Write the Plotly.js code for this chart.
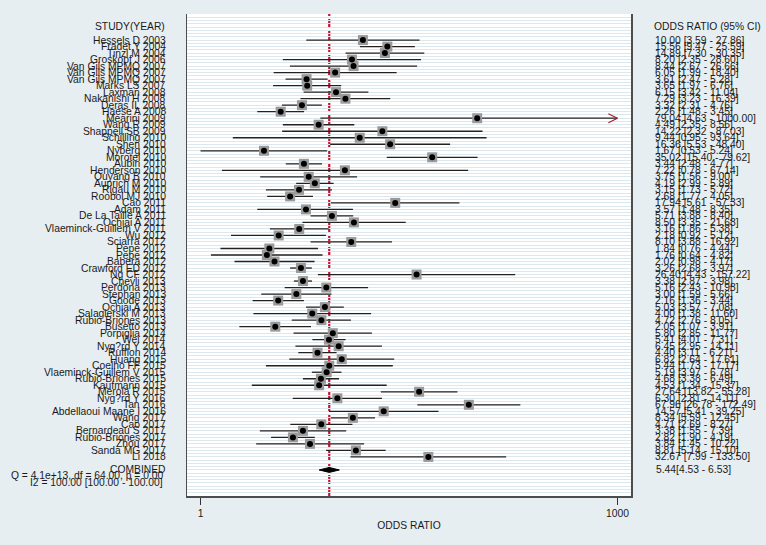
<!DOCTYPE html>
<html>
<head>
<meta charset="utf-8">
<script src="https://cdn.plot.ly/plotly-3.0.1.min.js"></script>
<style>
  html, body { margin: 0; padding: 0; background: #e7eef1; }
  #chart { width: 766px; height: 545px; }
</style>
</head>
<body>
<div id="chart"></div>
<script>
// ---------------- data ----------------
const studies = [
  'Hessels D 2003', 'Fradet Y 2004', 'Tinzl M 2004', 'Groskopf J 2006',
  'Van Gils MPMQ 2007', 'Van Gils MPMQ 2007', 'Van Gils MPMQ 2007', 'Marks LS 2007',
  'Laxman 2008', 'Nakanishi H 2008', 'Deras IL 2008', 'Haese A 2008',
  'Mearini 2009', 'Wang R 2009', 'Shappell SB 2009', 'Schilling 2010',
  'Shen 2010', 'Nyberg 2010', 'Morotel 2010', 'Aubin 2010',
  'Henderson 2010', 'Ouyang B 2010', 'Auprich M 2010', 'Rigau M 2010',
  'Roobol MJ 2010', 'Cao 2011', 'Adam 2011', 'De La Taille A 2011',
  'Ochiai A 2011', 'Vlaeminck-Guillem V 2011', 'Wu 2012', 'Sciarra 2012',
  'Pepe 2012', 'Pepe 2012', 'Babera 2012', 'Crawford ED 2012',
  'Ng CF 2012', 'Chevli 2013', 'Perdona 2013', 'Stephan 2013',
  'Goode 2013', 'Ochiai A 2013', 'Salagierski M 2013', 'Rubio-Briones 2013',
  'Busetto 2013', 'Porpiglia 2014', 'Wei 2014', 'Nyg?rd Y 2014',
  'Ruffion 2014', 'Huang 2015', 'Coelho FF 2015', 'Vlaeminck-Guillem V 2015',
  'Rubio-Briones 2015', 'Kaufmann 2015', 'Merola R 2015', 'Nyg?rd Y 2016',
  'Tan 2016', 'Abdellaoui Maane I 2016', 'Wang 2017', 'Cao 2017',
  'Bernardeau S 2017', 'Rubio-Briones 2017', 'Zhou 2017', 'Sanda MG 2017',
  'Li 2018'
];
const oddsRatio = [
  10.00, 15.56, 14.89, 8.20,
  8.44, 6.05, 3.61, 3.65,
  6.15, 7.29, 3.32, 2.26,
  79.04, 4.49, 14.22, 9.44,
  16.36, 1.67, 35.02, 3.44,
  7.22, 3.75, 4.19, 3.15,
  2.68, 17.94, 3.57, 5.71,
  8.50, 3.16, 2.18, 8.10,
  1.84, 1.76, 2.02, 3.26,
  26.40, 3.38, 5.16, 3.00,
  2.16, 5.03, 4.00, 4.72,
  2.05, 5.80, 5.41, 6.45,
  4.40, 6.82, 5.44, 5.19,
  4.68, 4.53, 27.64, 6.30,
  67.96, 14.57, 8.34, 4.71,
  3.38, 2.82, 3.84, 8.81,
  32.67
];
const ciLower = [
  3.59, 9.47, 7.30, 2.35,
  2.67, 1.99, 2.47, 1.97,
  3.42, 3.23, 2.31, 1.48,
  4.63, 2.35, 2.32, 0.95,
  5.53, 0.53, 15.40, 2.48,
  0.78, 1.56, 2.99, 1.73,
  1.77, 5.61, 1.48, 3.88,
  3.35, 1.86, 0.92, 3.88,
  0.76, 0.64, 0.98, 2.68,
  4.43, 2.87, 2.43, 1.59,
  1.36, 3.57, 1.38, 2.76,
  1.07, 2.85, 4.01, 2.95,
  3.11, 2.64, 1.73, 3.97,
  3.38, 1.34, 13.82, 2.81,
  26.78, 5.41, 5.59, 2.69,
  1.55, 1.90, 1.45, 5.14,
  7.99
];
const ciUpper = [
  27.86, 25.59, 30.35, 28.60,
  26.66, 18.40, 5.28, 6.76,
  11.04, 16.39, 4.76, 3.45,
  1000.00, 8.56, 87.03, 93.64,
  48.40, 5.24, 79.62, 4.77,
  67.14, 9.00, 5.89, 5.72,
  4.05, 57.33, 8.35, 8.40,
  21.68, 5.38, 5.12, 16.92,
  4.44, 4.82, 4.17, 3.97,
  157.22, 3.98, 10.98, 5.66,
  3.44, 7.08, 11.60, 8.05,
  3.91, 11.77, 7.31, 14.11,
  6.21, 17.61, 17.17, 6.78,
  6.49, 15.37, 55.28, 14.11,
  172.49, 39.25, 12.45, 8.27,
  7.39, 4.19, 10.22, 15.10,
  133.50
];
const pooledOR = 5.44;
const pooledLower = 4.53;
const pooledUpper = 6.53;
const heterogeneityQ = 'Q = 4.1e+13, df = 64.00, p = 0.00';
const heterogeneityI2 = 'I2 = 100.00 [100.00 - 100.00]';
const axisCap = 1000;               // upper CIs at this value are truncated (arrow)
const tickVals = [0.531, 1000];
const tickText = ['1', '1000'];

// ---------------- build ----------------
const rows = studies.map((_, i) => i + 1);
const combinedRow = studies.length + 2;
const headerRow = -1.15;

const FONT = 'Liberation Sans, Arial, sans-serif';
const TXT = '#1a1a1a';
const fs = 10.3;

const traces = [];

// CI lines + weight squares
traces.push({
  type: 'scatter', mode: 'markers',
  x: oddsRatio, y: rows,
  marker: { symbol: 'square', size: 10, color: '#9a9a9a', line: { width: 0 } },
  error_x: {
    type: 'data', symmetric: false,
    array: oddsRatio.map((v, i) => ciUpper[i] - v),
    arrayminus: oddsRatio.map((v, i) => v - ciLower[i]),
    width: 0, thickness: 1.3, color: '#222222'
  },
  hoverinfo: 'skip', showlegend: false
});
// point estimates
traces.push({
  type: 'scatter', mode: 'markers',
  x: oddsRatio, y: rows,
  marker: { symbol: 'circle', size: 6, color: '#000000' },
  hoverinfo: 'skip', showlegend: false
});

// truncated-CI arrows
rows.forEach((r, i) => {
  if (ciUpper[i] >= axisCap) {
    traces.push({
      type: 'scatter', mode: 'lines',
      x: [ciUpper[i] / 1.18, ciUpper[i], ciUpper[i] / 1.18],
      y: [r - 0.7, r, r + 0.7],
      line: { color: '#a3202c', width: 1.1 },
      hoverinfo: 'skip', showlegend: false
    });
  }
});

// pooled diamond
traces.push({
  type: 'scatter', mode: 'lines',
  x: [pooledLower, pooledOR, pooledUpper, pooledOR, pooledLower],
  y: [combinedRow, combinedRow - 0.38, combinedRow, combinedRow + 0.38, combinedRow],
  fill: 'toself', fillcolor: '#000000',
  line: { color: '#000000', width: 1 },
  hoverinfo: 'skip', showlegend: false
});

const fmt = v => v.toFixed(2);
const annotations = [];
const leftX = (167 - 187) / 444;
const rightX = (654 - 187) / 444;

annotations.push({ xref: 'paper', yref: 'y', x: leftX, y: headerRow, text: 'STUDY(YEAR)',
  showarrow: false, xanchor: 'right', yanchor: 'middle', font: { family: FONT, size: fs, color: TXT } });
annotations.push({ xref: 'paper', yref: 'y', x: rightX - 0.004, y: headerRow, text: 'ODDS RATIO (95% CI)',
  showarrow: false, xanchor: 'left', yanchor: 'middle', font: { family: FONT, size: fs, color: TXT } });

rows.forEach((r, i) => {
  annotations.push({ xref: 'paper', yref: 'y', x: leftX, y: r, text: studies[i],
    showarrow: false, xanchor: 'right', yanchor: 'middle', borderpad: 0,
    font: { family: FONT, size: fs, color: TXT } });
  annotations.push({ xref: 'paper', yref: 'y', x: rightX, y: r,
    text: fmt(oddsRatio[i]) + ' [' + fmt(ciLower[i]) + ' - ' + fmt(ciUpper[i]) + ']',
    showarrow: false, xanchor: 'left', yanchor: 'middle', borderpad: 0,
    font: { family: FONT, size: fs, color: TXT } });
});

annotations.push({ xref: 'paper', yref: 'y', x: leftX, y: combinedRow, text: 'COMBINED',
  showarrow: false, xanchor: 'right', yanchor: 'middle', borderpad: 0, font: { family: FONT, size: fs, color: TXT } });
annotations.push({ xref: 'paper', yref: 'y', x: (165 - 187) / 444, y: combinedRow + 0.88, text: heterogeneityQ,
  showarrow: false, xanchor: 'right', yanchor: 'middle', borderpad: 0, font: { family: FONT, size: fs, color: TXT } });
annotations.push({ xref: 'paper', yref: 'y', x: (163.5 - 187) / 444, y: combinedRow + 2.0, text: heterogeneityI2,
  showarrow: false, xanchor: 'right', yanchor: 'middle', borderpad: 0, font: { family: FONT, size: fs, color: TXT } });
annotations.push({ xref: 'paper', yref: 'y', x: (655 - 187) / 444, y: combinedRow, 
  text: fmt(pooledOR) + '[' + fmt(pooledLower) + ' - ' + fmt(pooledUpper) + ']',
  showarrow: false, xanchor: 'left', yanchor: 'middle', borderpad: 0, font: { family: FONT, size: fs, color: TXT } });

const layout = {
  width: 766, height: 545,
  margin: { l: 187, r: 135, t: 14, b: 49, pad: 0 },
  paper_bgcolor: '#e7eef1',
  plot_bgcolor: '#ffffff',
  showlegend: false,
  xaxis: {
    type: 'log',
    range: [Math.log10(0.415), Math.log10(1277)],
    tickvals: tickVals, ticktext: tickText,
    ticks: 'outside', ticklen: 7, tickwidth: 1, tickcolor: '#333333',
    showgrid: false, zeroline: false,
    showline: true, linecolor: '#4d4d4d', linewidth: 1.5, mirror: false,
    tickfont: { family: FONT, size: fs, color: TXT },
    title: { text: 'ODDS RATIO', font: { family: FONT, size: fs, color: TXT }, standoff: 4 },
    fixedrange: true
  },
  yaxis: {
    range: [studies.length + 6, -3],
    showticklabels: false, ticks: '',
    tick0: 0, dtick: 0.5,
    showgrid: true, gridcolor: '#dde8ee', gridwidth: 1,
    zeroline: false,
    showline: true, linecolor: '#4d4d4d', linewidth: 1.5, mirror: true,
    fixedrange: true
  },
  shapes: [{
    type: 'line', xref: 'x', yref: 'paper',
    x0: pooledOR, x1: pooledOR, y0: 0, y1: 1,
    line: { color: '#c8102e', width: 2.2, dash: '9px,3px' },
    layer: 'below'
  }],
  annotations: annotations
};

Plotly.newPlot('chart', traces, layout, { displayModeBar: false, staticPlot: true });
</script>
</body>
</html>
